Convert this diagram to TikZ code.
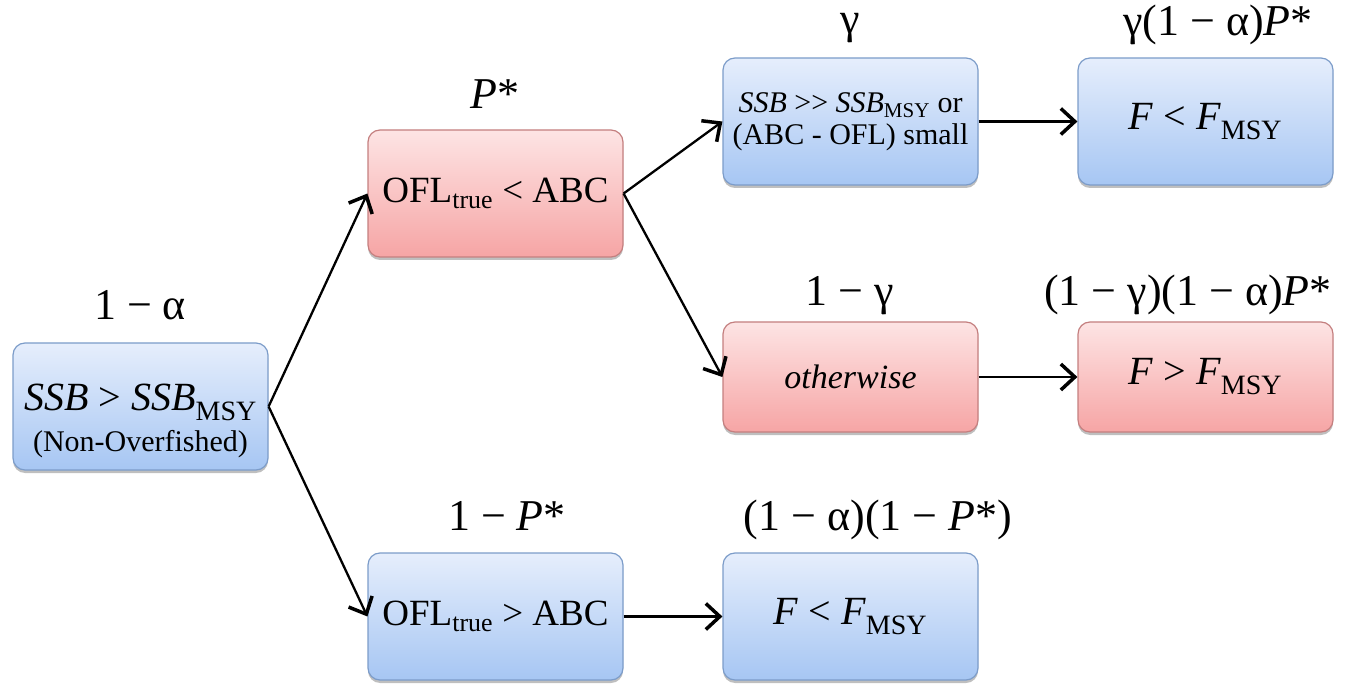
\documentclass[tikz,border=0pt]{standalone}
\usepackage{fontspec}
\setmainfont{Liberation Serif}
\usetikzlibrary{arrows.meta,shadows}
\definecolor{bluetop}{HTML}{E6EEFC}
\definecolor{bluebot}{HTML}{A6C6F3}
\definecolor{blueedge}{HTML}{7C9CC9}
\definecolor{redtop}{HTML}{FDE4E4}
\definecolor{redbot}{HTML}{F6A5A5}
\definecolor{rededge}{HTML}{C47F7F}
\newcommand\fbig{\fontsize{40}{44}\selectfont}
\newcommand\fofl{\fontsize{37}{41}\selectfont}
\newcommand\fmid{\fontsize{30}{34}\selectfont}
\newcommand\foth{\fontsize{34}{38}\selectfont}
\newcommand\fsml{\fontsize{30}{32}\selectfont}
\newcommand\flbl{\fontsize{44}{48}\selectfont}
\tikzset{
  box/.style={rounded corners=12pt, minimum width=255pt, minimum height=127pt,
    inner sep=0pt, align=center, line width=1.2pt,
    drop shadow={shadow xshift=0pt, shadow yshift=-3pt, opacity=0.25, fill=black}},
  bluebox/.style={box, draw=blueedge, top color=bluetop, bottom color=bluebot},
  redbox/.style={box, draw=rededge, top color=redtop, bottom color=redbot},
  lbl/.style={font=\flbl, anchor=base, inner sep=0pt},
  conn/.style={line width=2.3pt, -{Straight Barb[length=14pt,width=26pt,line width=3.5pt]}},
}
\begin{document}
\begin{tikzpicture}[x=1pt,y=-1pt]
\useasboundingbox (0,0) rectangle (1352,684);
% boxes
\node[bluebox, label={[name=roottxt, align=center, font=\fbig, yshift=-14pt]center:{\textit{SSB} > \textit{SSB}\textsubscript{MSY}\\[-3pt]{\fsml (Non-Overfished)}}}] (root) at (140.5,406.5) {};
\node[redbox, font=\fofl] (ofllt) at (495.5,193.5) {OFL\textsubscript{true} < ABC};
\node[bluebox, font=\fmid] (ssb) at (850.5,121.5)
  {\textit{SSB} >{}> \textit{SSB}\textsubscript{MSY} or\\[-2pt](ABC - OFL) small};
\node[bluebox, font=\fbig] (flt) at (1205.5,121.5) {\textit{F} < \textit{F}\textsubscript{MSY}};
\node[redbox, font=\foth, minimum height=110pt] (oth) at (850.5,377) {\textit{otherwise}};
\node[redbox, font=\fbig, minimum height=110pt] (fgt) at (1205.5,377) {\textit{F} > \textit{F}\textsubscript{MSY}};
\node[bluebox, font=\fofl] (oflgt) at (495.5,616.5) {OFL\textsubscript{true} > ABC};
\node[bluebox, font=\fbig] (flb) at (850.5,616.5) {\textit{F} < \textit{F}\textsubscript{MSY}};
% labels
\node[lbl] (l1) at (140,320) {1 − α};
\node[lbl] (l2) at (495,109) {\textit{P}*};
\node[lbl] (l3) at (850,34) {γ};
\node[lbl] (l4) at (1218,36) {γ(1 − α)\textit{P}*};
\node[lbl] (l5) at (850,306) {1 − γ};
\node[lbl] (l6) at (1188,306) {(1 − γ)(1 − α)\textit{P}*};
\node[lbl] (l7) at (507,530) {1 − \textit{P}*};
\node[lbl] (l8) at (878,530) {(1 − α)(1 − \textit{P}*)};
% connectors
\draw[conn] (root.east) -- (ofllt.west);
\draw[conn] (root.east) -- (oflgt.west);
\draw[conn] (ofllt.east) -- (ssb.west);
\draw[conn] (ofllt.east) -- (oth.west);
\draw[conn] (ssb.east) -- (flt.west);
\draw[conn] (oth.east) -- (fgt.west);
\draw[conn] (oflgt.east) -- (flb.west);
\end{tikzpicture}
\end{document}
